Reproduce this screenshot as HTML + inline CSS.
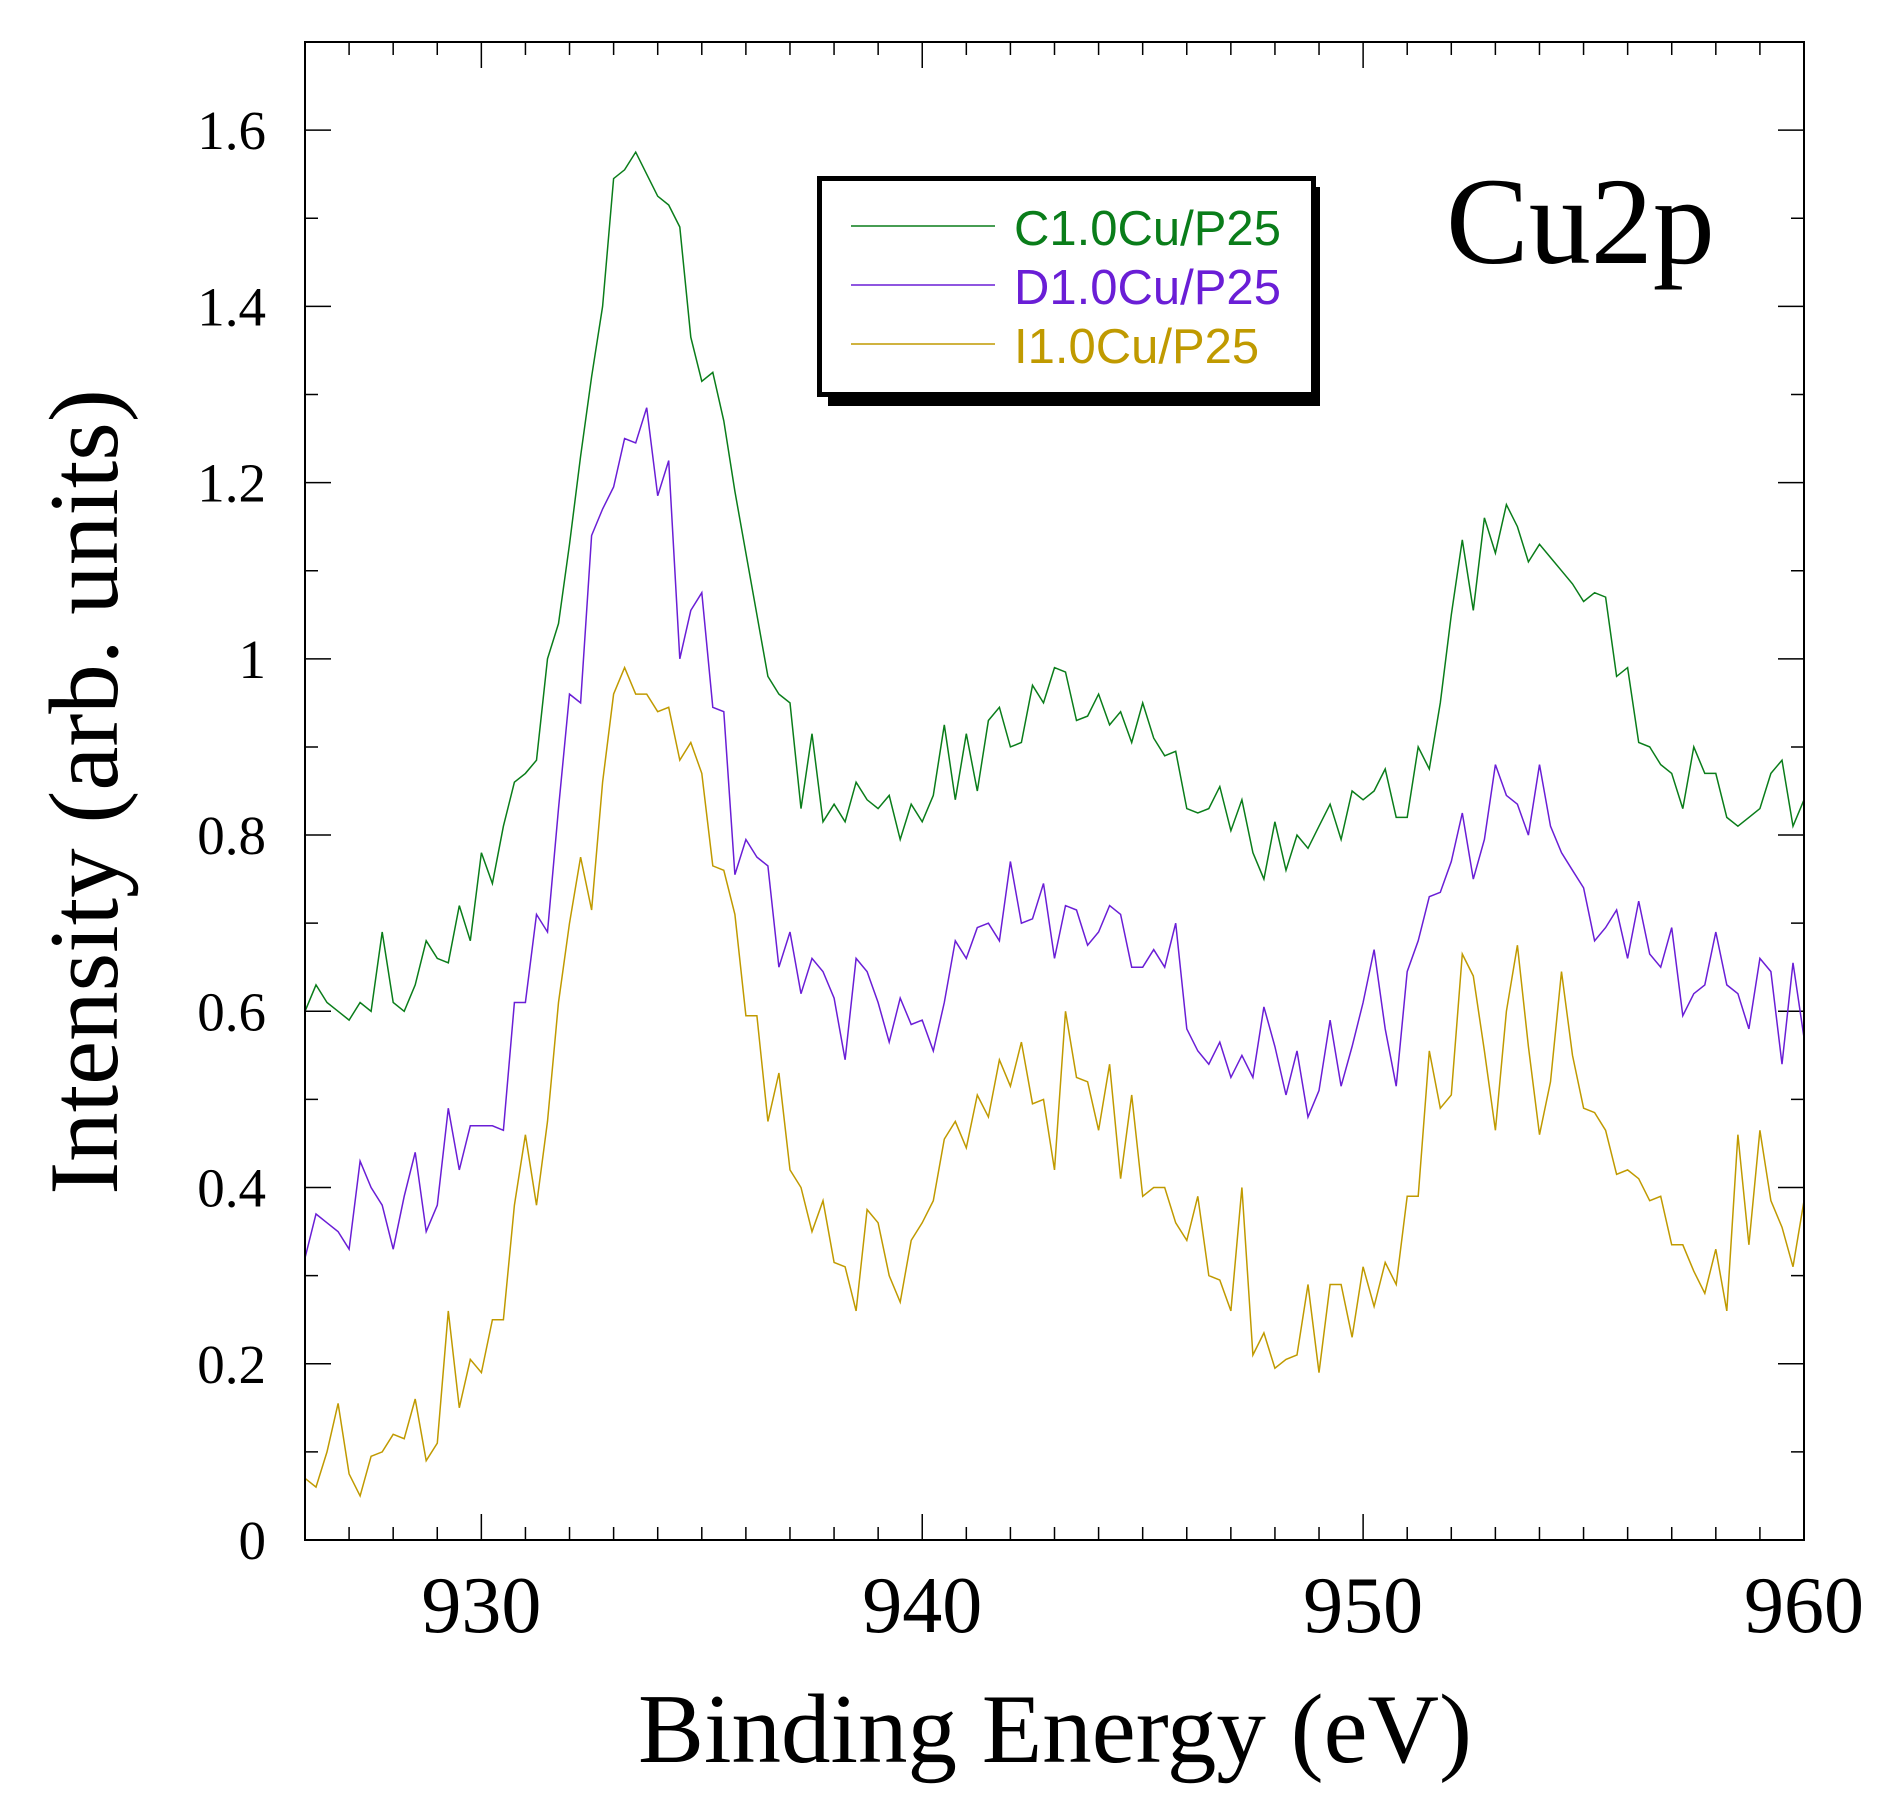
<!DOCTYPE html>
<html><head><meta charset="utf-8"><style>
html,body{margin:0;padding:0;background:#fff;}
svg{display:block;}
</style></head><body>
<svg id="chart" width="1895" height="1808" viewBox="0 0 1895 1808" xmlns="http://www.w3.org/2000/svg">
<g id="ticks"></g>
<g id="series"></g>
<rect x="305" y="42" width="1499" height="1498" fill="none" stroke="#000" stroke-width="2"/>
<g id="labels" font-family="'Liberation Serif', serif"></g>
<text x="1055" y="1762" font-family="'Liberation Serif', serif" font-size="99" text-anchor="middle">Binding Energy (eV)</text>
<text transform="translate(117,792) rotate(-90)" font-family="'Liberation Serif', serif" font-size="99" text-anchor="middle">Intensity (arb. units)</text>
<text x="1446" y="263" font-family="'Liberation Serif', serif" font-size="124">Cu2p</text>
<g>
<polygon points="828,187 1320,187 1320,406 828,406" fill="#000"/>
<rect x="819.5" y="178.5" width="494" height="216" fill="#fff" stroke="#000" stroke-width="5"/>
<g><line x1="851" y1="226" x2="995" y2="226" stroke="#0a7d1a" stroke-width="1.5"/><text x="1014" y="245" font-family="'Liberation Sans', sans-serif" font-size="49" fill="#0a7d1a">C1.0Cu/P25</text></g>
<g><line x1="851" y1="285" x2="995" y2="285" stroke="#6a1ed6" stroke-width="1.5"/><text x="1014" y="304" font-family="'Liberation Sans', sans-serif" font-size="49" fill="#6a1ed6">D1.0Cu/P25</text></g>
<g><line x1="851" y1="344" x2="995" y2="344" stroke="#c09a00" stroke-width="1.5"/><text x="1014" y="363" font-family="'Liberation Sans', sans-serif" font-size="49" fill="#c09a00">I1.0Cu/P25</text></g>
</g>
</svg>
<script>
const xStart = 926;
const xEnd = 960;
const xTickLabels = [930, 940, 950, 960];
const yTickLabels = ["0","0.2","0.4","0.6","0.8","1","1.2","1.4","1.6"];
const yTickValues = [0,0.2,0.4,0.6,0.8,1,1.2,1.4,1.6];
const seriesC = [.60,.63,.61,.60,.59,.61,.60,.69,.61,.60,.63,.68,.66,.655,.72,.68,.78,.745,.81,.86,.87,.885,1.0,1.04,1.13,1.23,1.32,1.40,1.545,1.555,1.575,1.55,1.525,1.515,1.49,1.365,1.315,1.325,1.27,1.19,1.12,1.05,.98,.96,.95,.83,.915,.815,.835,.815,.86,.84,.83,.845,.795,.835,.815,.845,.925,.84,.915,.85,.93,.945,.90,.905,.97,.95,.99,.985,.93,.935,.96,.925,.94,.905,.95,.91,.89,.895,.83,.825,.83,.855,.805,.84,.78,.75,.815,.76,.80,.785,.81,.835,.795,.85,.84,.85,.875,.82,.82,.90,.875,.95,1.05,1.135,1.055,1.16,1.12,1.175,1.15,1.11,1.13,1.115,1.10,1.085,1.065,1.075,1.07,.98,.99,.905,.90,.88,.87,.83,.90,.87,.87,.82,.81,.82,.83,.87,.885,.81,.84];
const seriesD = [.32,.37,.36,.35,.33,.43,.40,.38,.33,.39,.44,.35,.38,.49,.42,.47,.47,.47,.465,.61,.61,.71,.69,.83,.96,.95,1.14,1.17,1.195,1.25,1.245,1.285,1.185,1.225,1.0,1.055,1.075,.945,.94,.755,.795,.775,.765,.65,.69,.62,.66,.645,.615,.545,.66,.645,.61,.565,.615,.585,.59,.555,.61,.68,.66,.695,.70,.68,.77,.70,.705,.745,.66,.72,.715,.675,.69,.72,.71,.65,.65,.67,.65,.70,.58,.555,.54,.565,.525,.55,.525,.605,.56,.505,.555,.48,.51,.59,.515,.56,.61,.67,.58,.515,.645,.68,.73,.735,.77,.825,.75,.795,.88,.845,.835,.80,.88,.81,.78,.76,.74,.68,.695,.715,.66,.725,.665,.65,.695,.595,.62,.63,.69,.63,.62,.58,.66,.645,.54,.655,.57];
const seriesI = [.07,.06,.10,.155,.075,.05,.095,.10,.12,.115,.16,.09,.11,.26,.15,.205,.19,.25,.25,.38,.46,.38,.475,.61,.70,.775,.715,.86,.96,.99,.96,.96,.94,.945,.885,.905,.87,.765,.76,.71,.595,.595,.475,.53,.42,.40,.35,.385,.315,.31,.26,.375,.36,.30,.27,.34,.36,.385,.455,.475,.445,.505,.48,.545,.515,.565,.495,.50,.42,.60,.525,.52,.465,.54,.41,.505,.39,.40,.40,.36,.34,.39,.30,.295,.26,.40,.21,.235,.195,.205,.21,.29,.19,.29,.29,.23,.31,.265,.315,.29,.39,.39,.555,.49,.505,.665,.64,.555,.465,.60,.675,.56,.46,.52,.645,.55,.49,.485,.465,.415,.42,.41,.385,.39,.335,.335,.305,.28,.33,.26,.46,.335,.465,.385,.355,.31,.385];

const L=305,R=1804,T=42,B=1540,yMax=1.7;
function xs(v){return L+(v-xStart)/(xEnd-xStart)*(R-L);}
function ys(v){return B-v/yMax*(B-T);}
const NS='http://www.w3.org/2000/svg';
const tg=document.getElementById('ticks'), lg=document.getElementById('labels'), sg=document.getElementById('series');
let d='';
for(let e=xStart;e<=xEnd;e++){
  const x=xs(e), len=(e%10===0)?26:13;
  d+=`M${x},${B}v${-len}M${x},${T}v${len}`;
}
for(let v=0;v<=1.7001;v+=0.1){
  const y=ys(v), major=Math.round(v*10)%2===0, len=major?26:13;
  d+=`M${L},${y}h${len}M${R},${y}h${-len}`;
}
const tp=document.createElementNS(NS,'path');
tp.setAttribute('d',d);tp.setAttribute('stroke','#000');tp.setAttribute('stroke-width','1.5');tp.setAttribute('fill','none');


tg.appendChild(tp);
xTickLabels.forEach(function(v){
  const t=document.createElementNS(NS,'text');
  t.setAttribute('x',xs(v));t.setAttribute('y',1632);t.setAttribute('font-size','80');t.setAttribute('text-anchor','middle');
  t.textContent=v;
  
  
  lg.appendChild(t);
});
yTickLabels.forEach(function(s,i){
  const t=document.createElementNS(NS,'text');
  t.setAttribute('x',266);t.setAttribute('y',ys(yTickValues[i])+19);t.setAttribute('font-size','55');t.setAttribute('text-anchor','end');
  t.textContent=s;
  
  
  lg.appendChild(t);
});
function line(vals,color,name){
  const step=(xEnd-xStart)/(vals.length-1);
  const pts=vals.map(function(v,i){return xs(xStart+i*step).toFixed(1)+','+ys(v).toFixed(1);}).join(' ');
  const p=document.createElementNS(NS,'polyline');
  p.setAttribute('points',pts);p.setAttribute('fill','none');p.setAttribute('stroke',color);p.setAttribute('stroke-width','1.5');
  
  
  sg.appendChild(p);
}
line(seriesC,'#0a7d1a','series-c1-0cu-p25');
line(seriesD,'#6a1ed6','series-d1-0cu-p25');
line(seriesI,'#c09a00','series-i1-0cu-p25');
</script>
</body></html>
